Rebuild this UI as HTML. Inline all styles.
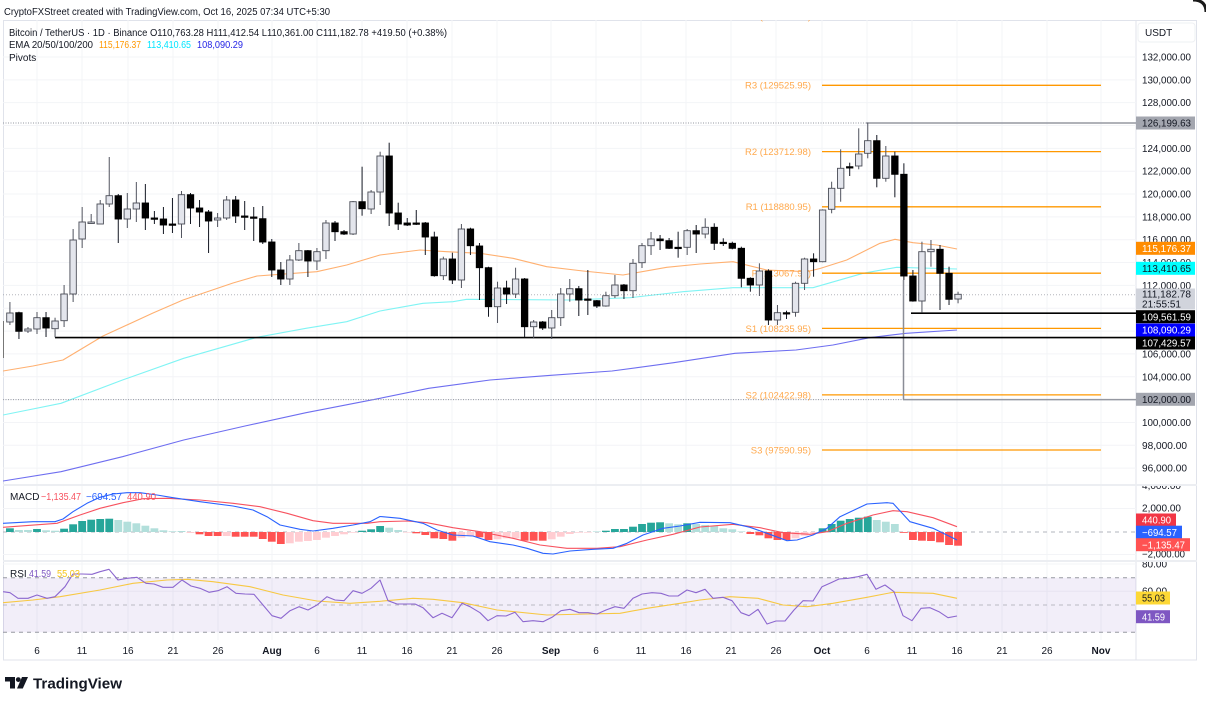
<!DOCTYPE html>
<html><head><meta charset="utf-8">
<style>
html,body{margin:0;padding:0;background:#fff;width:1206px;height:703px;overflow:hidden}
svg{display:block;font-family:"Liberation Sans",Arial,sans-serif}
</style></head>
<body>
<svg id="c" width="1206" height="703" viewBox="0 0 1206 703" xmlns="http://www.w3.org/2000/svg">
<defs>
<clipPath id="mp"><rect x="3" y="20" width="1133" height="464"/></clipPath>
<clipPath id="mc"><rect x="3" y="486" width="1133" height="74"/></clipPath>
<clipPath id="rc"><rect x="3" y="562" width="1133" height="78"/></clipPath>
<clipPath id="axm"><rect x="1136" y="486" width="61" height="74"/></clipPath>
<clipPath id="axr"><rect x="1136" y="562" width="61" height="78"/></clipPath>
</defs>
<rect width="1206" height="703" fill="#fff"/>
<path d="M1193,0 Q1206,0 1206,12" fill="none" stroke="#1a1a1a" stroke-width="3"/>

<!-- header -->
<text x="4" y="15" font-size="10" fill="#131722" textLength="326" lengthAdjust="spacingAndGlyphs">CryptoFXStreet created with TradingView.com, Oct 16, 2025 07:34 UTC+5:30</text>

<!-- frame -->
<rect x="3.5" y="20.5" width="1193" height="639.5" fill="none" stroke="#e0e3eb"/>
<line x1="1136" y1="20" x2="1136" y2="660" stroke="#e0e3eb"/>
<rect x="1138" y="23" width="57" height="19" rx="3" fill="#fff" stroke="#eef0f3"/>
<text x="1145" y="36" font-size="10" fill="#131722">USDT</text>

<g id="grid" stroke="#f3f4f7" stroke-width="1"></g>

<!-- main pane -->
<g clip-path="url(#mp)">
  <g id="emas" fill="none" stroke-width="1.1"></g>
  <!-- pivots -->
  <g stroke="#ff9800" stroke-width="1.3">
    <line x1="822" x2="1101" y1="85.3" y2="85.3"/>
    <line x1="822" x2="1101" y1="151.6" y2="151.6"/>
    <line x1="822" x2="1101" y1="206.8" y2="206.8"/>
    <line x1="822" x2="1101" y1="273.2" y2="273.2"/>
    <line x1="822" x2="1101" y1="328.4" y2="328.4"/>
    <line x1="822" x2="1101" y1="394.9" y2="394.9"/>
    <line x1="822" x2="1101" y1="450" y2="450"/>
  </g>
  <g font-size="9.5" fill="#ffa94d" text-anchor="end">
    <text x="811" y="19.5">R4 (135338.95)</text>
    <text x="811" y="88.7">R3 (129525.95)</text>
    <text x="811" y="155">R2 (123712.98)</text>
    <text x="811" y="210.2">R1 (118880.95)</text>
    <text x="811" y="276.6">P (113067.93)</text>
    <text x="811" y="331.8">S1 (108235.95)</text>
    <text x="811" y="398.3">S2 (102422.98)</text>
    <text x="811" y="453.4">S3 (97590.95)</text>
  </g>
  <!-- reference lines -->
  <line x1="3" x2="866" y1="123" y2="123" stroke="#9598a1" stroke-dasharray="1,1.5"/>
  <line x1="866" x2="1136" y1="123" y2="123" stroke="#9598a1" stroke-width="1.5"/>
  <line x1="3" x2="903" y1="399.6" y2="399.6" stroke="#9598a1" stroke-dasharray="1,1.5"/>
  <line x1="903" x2="1136" y1="399.6" y2="399.6" stroke="#9598a1" stroke-width="1.5"/>
  <line x1="903.5" x2="903.5" y1="280" y2="399.6" stroke="#8a8d96" stroke-width="1.5"/>
  <line x1="3" x2="1136" y1="294.7" y2="294.7" stroke="#9598a1" stroke-dasharray="1,2" opacity="0.7"/>
  <line x1="55" x2="1136" y1="337.6" y2="337.6" stroke="#000" stroke-width="1.6"/>
  <line x1="911" x2="1136" y1="313.2" y2="313.2" stroke="#000" stroke-width="1.6"/>
  <line x1="3.5" x2="3.5" y1="321" y2="358" stroke="#777" stroke-width="1"/>
  <g id="candles"></g>
</g>

<!-- legend -->
<text x="9" y="36" font-size="10" fill="#131722" textLength="438" lengthAdjust="spacingAndGlyphs">Bitcoin / TetherUS · 1D · Binance  O110,763.28  H111,412.54  L110,361.00  C111,182.78  +419.50 (+0.38%)</text>
<text x="9" y="48" font-size="10" fill="#131722" textLength="84" lengthAdjust="spacingAndGlyphs">EMA 20/50/100/200</text>
<text x="99" y="48" font-size="10" fill="#ff9800" textLength="42" lengthAdjust="spacingAndGlyphs">115,176.37</text>
<text x="147" y="48" font-size="10" fill="#00e5ff" textLength="44" lengthAdjust="spacingAndGlyphs">113,410.65</text>
<text x="197" y="48" font-size="10" fill="#2424e6" textLength="46" lengthAdjust="spacingAndGlyphs">108,090.29</text>
<text x="9" y="61" font-size="10" fill="#131722">Pivots</text>

<!-- pane separators -->
<rect x="3" y="484" width="1194" height="2" fill="#eceef2"/>
<rect x="3" y="560" width="1194" height="2" fill="#eceef2"/>

<!-- MACD pane -->
<g clip-path="url(#mc)">
  <line x1="3" x2="1136" y1="532" y2="532" stroke="#b2b5be" stroke-dasharray="4,4"/>
  <g id="hist"></g>
  <g id="macdl" fill="none" stroke-width="1.1"></g>
</g>
<text x="10" y="500" font-size="10" fill="#131722">MACD</text>
<text x="41" y="500" font-size="10" fill="#f7525f" textLength="40" lengthAdjust="spacingAndGlyphs">−1,135.47</text>
<text x="86" y="500" font-size="10" fill="#2962ff" textLength="36" lengthAdjust="spacingAndGlyphs">−694.57</text>
<text x="127" y="500" font-size="10" fill="#f7525f" textLength="29" lengthAdjust="spacingAndGlyphs">440.90</text>

<!-- RSI pane -->
<g clip-path="url(#rc)">
  <rect x="3" y="577.7" width="1133" height="54.6" fill="#7e57c2" fill-opacity="0.1"/>
  <g stroke="#9598a1" stroke-dasharray="4,4" stroke-width="1">
    <line x1="3" x2="1136" y1="577.7" y2="577.7"/>
    <line x1="3" x2="1136" y1="605" y2="605" opacity="0.6"/>
    <line x1="3" x2="1136" y1="632.3" y2="632.3"/>
  </g>
  <g id="rsil" fill="none" stroke-width="1.1"></g>
</g>
<text x="10" y="577" font-size="10" fill="#131722">RSI</text>
<text x="29" y="577" font-size="10" fill="#7e57c2" textLength="22" lengthAdjust="spacingAndGlyphs">41.59</text>
<text x="57" y="577" font-size="10" fill="#f5c518" textLength="23" lengthAdjust="spacingAndGlyphs">55.03</text>

<!-- price axis -->
<g font-size="10" fill="#131722">
  <text x="1142" y="60.5" textLength="49" lengthAdjust="spacingAndGlyphs">132,000.00</text>
  <text x="1142" y="83.3" textLength="49" lengthAdjust="spacingAndGlyphs">130,000.00</text>
  <text x="1142" y="106.2" textLength="49" lengthAdjust="spacingAndGlyphs">128,000.00</text>
  <text x="1142" y="151.9" textLength="49" lengthAdjust="spacingAndGlyphs">124,000.00</text>
  <text x="1142" y="174.7" textLength="49" lengthAdjust="spacingAndGlyphs">122,000.00</text>
  <text x="1142" y="197.5" textLength="49" lengthAdjust="spacingAndGlyphs">120,000.00</text>
  <text x="1142" y="220.4" textLength="49" lengthAdjust="spacingAndGlyphs">118,000.00</text>
  <text x="1142" y="243.2" textLength="49" lengthAdjust="spacingAndGlyphs">116,000.00</text>
  <text x="1142" y="266.1" textLength="49" lengthAdjust="spacingAndGlyphs">114,000.00</text>
  <text x="1142" y="288.9" textLength="49" lengthAdjust="spacingAndGlyphs">112,000.00</text>
  <text x="1142" y="357.4" textLength="49" lengthAdjust="spacingAndGlyphs">106,000.00</text>
  <text x="1142" y="380.3" textLength="49" lengthAdjust="spacingAndGlyphs">104,000.00</text>
  <text x="1142" y="425.9" textLength="49" lengthAdjust="spacingAndGlyphs">100,000.00</text>
  <text x="1142" y="448.8" textLength="45" lengthAdjust="spacingAndGlyphs">98,000.00</text>
  <text x="1142" y="471.6" textLength="45" lengthAdjust="spacingAndGlyphs">96,000.00</text>
</g>
<!-- price tags -->
<g font-size="10">
  <rect x="1136" y="116.5" width="59" height="13" fill="#a3a6af"/>
  <text x="1142" y="126.6" fill="#131722" textLength="49" lengthAdjust="spacingAndGlyphs">126,199.63</text>
  <rect x="1136" y="241.8" width="59" height="13" fill="#ff8c00"/>
  <text x="1142" y="251.9" fill="#fff" textLength="49" lengthAdjust="spacingAndGlyphs">115,176.37</text>
  <rect x="1136" y="261.8" width="59" height="13" fill="#00ffff"/>
  <text x="1142" y="271.9" fill="#131722" textLength="49" lengthAdjust="spacingAndGlyphs">113,410.65</text>
  <rect x="1136" y="288.5" width="59" height="21" fill="#d1d4dc"/>
  <text x="1142" y="297.6" fill="#131722" textLength="49" lengthAdjust="spacingAndGlyphs">111,182.78</text>
  <text x="1142" y="307.6" fill="#131722" textLength="39" lengthAdjust="spacingAndGlyphs">21:55:51</text>
  <rect x="1136" y="310.2" width="59" height="13" fill="#000"/>
  <text x="1142" y="320.3" fill="#fff" textLength="49" lengthAdjust="spacingAndGlyphs">109,561.59</text>
  <rect x="1136" y="323.5" width="59" height="13" fill="#0000ff"/>
  <text x="1142" y="333.6" fill="#fff" textLength="49" lengthAdjust="spacingAndGlyphs">108,090.29</text>
  <rect x="1136" y="336.5" width="59" height="13" fill="#000"/>
  <text x="1142" y="346.6" fill="#fff" textLength="49" lengthAdjust="spacingAndGlyphs">107,429.57</text>
  <rect x="1136" y="392.8" width="59" height="13" fill="#a3a6af"/>
  <text x="1142" y="402.9" fill="#131722" textLength="49" lengthAdjust="spacingAndGlyphs">102,000.00</text>
</g>

<!-- MACD axis -->
<g font-size="10" fill="#131722" clip-path="url(#axm)">
  <text x="1142" y="489" textLength="39" lengthAdjust="spacingAndGlyphs">4,000.00</text>
  <text x="1142" y="511.5" textLength="39" lengthAdjust="spacingAndGlyphs">2,000.00</text>
  <text x="1142" y="557.5" textLength="43" lengthAdjust="spacingAndGlyphs">−2,000.00</text>
</g>
<g font-size="10">
  <rect x="1136" y="513.5" width="40" height="13" fill="#f23645"/>
  <text x="1142" y="523.6" fill="#fff" textLength="29" lengthAdjust="spacingAndGlyphs">440.90</text>
  <rect x="1136" y="525.7" width="46" height="13" fill="#2962ff"/>
  <text x="1142" y="535.8" fill="#fff" textLength="35" lengthAdjust="spacingAndGlyphs">−694.57</text>
  <rect x="1136" y="538.2" width="54" height="13" fill="#ff5252"/>
  <text x="1142" y="548.3" fill="#fff" textLength="43" lengthAdjust="spacingAndGlyphs">−1,135.47</text>
</g>
<!-- RSI axis -->
<g font-size="10" fill="#131722" clip-path="url(#axr)">
  <text x="1142" y="567.5" textLength="25" lengthAdjust="spacingAndGlyphs">80.00</text>
  <text x="1142" y="594.5" textLength="25" lengthAdjust="spacingAndGlyphs">60.00</text>
</g>
<g font-size="10">
  <rect x="1136" y="591.5" width="34" height="13" fill="#fdd835"/>
  <text x="1142" y="601.6" fill="#131722" textLength="23" lengthAdjust="spacingAndGlyphs">55.03</text>
  <rect x="1136" y="610.2" width="34" height="13" fill="#7e57c2"/>
  <text x="1142" y="620.3" fill="#fff" textLength="23" lengthAdjust="spacingAndGlyphs">41.59</text>
</g>

<!-- time axis -->
<g font-size="10" fill="#131722" text-anchor="middle">
  <text x="37" y="654">6</text>
  <text x="82" y="654">11</text>
  <text x="128" y="654">16</text>
  <text x="173" y="654">21</text>
  <text x="218" y="654">26</text>
  <text x="272" y="654" font-weight="bold">Aug</text>
  <text x="317" y="654">6</text>
  <text x="362" y="654">11</text>
  <text x="407" y="654">16</text>
  <text x="452" y="654">21</text>
  <text x="497" y="654">26</text>
  <text x="551" y="654" font-weight="bold">Sep</text>
  <text x="596" y="654">6</text>
  <text x="641" y="654">11</text>
  <text x="686" y="654">16</text>
  <text x="731" y="654">21</text>
  <text x="776" y="654">26</text>
  <text x="822" y="654" font-weight="bold">Oct</text>
  <text x="867" y="654">6</text>
  <text x="912" y="654">11</text>
  <text x="957" y="654">16</text>
  <text x="1002" y="654">21</text>
  <text x="1047" y="654">26</text>
  <text x="1101" y="654" font-weight="bold">Nov</text>
</g>

<!-- TradingView logo -->
<path d="M5,677 h10 v11.5 h-5 v-7 h-5 z" fill="#131722"/>
<circle cx="18.3" cy="679.6" r="2.4" fill="#131722"/>
<path d="M22,677 h6 l-5.2,11.5 h-5.8 z" fill="#131722"/>
<text x="33" y="688.5" font-size="15" font-weight="bold" fill="#131722" textLength="89" lengthAdjust="spacingAndGlyphs">TradingView</text>

<script>
(function(){
var NS="http://www.w3.org/2000/svg";
function X(i){return 37+i*9.03;}
function add(g,tag,attrs){var e=document.createElementNS(NS,tag);for(var k in attrs)e.setAttribute(k,attrs[k]);g.appendChild(e);return e;}
// grid
var grid=document.getElementById('grid');
var dates=[-1,4,9,14,19,25.5,30,35,40,45,50,56.5,61,66,71,76,81,87,92,97,102,107,112,117.5];
for(var k=132;k>=96;k-=2){var y=57+(132-k)*11.42;add(grid,'line',{x1:3,x2:1136,y1:y,y2:y});}
[485.5,508.5,554.5].forEach(function(y){add(grid,'line',{x1:3,x2:1136,y1:y,y2:y});});
[564,591.3].forEach(function(y){add(grid,'line',{x1:3,x2:1136,y1:y,y2:y});});
[37,82,128,173,218,272,317,362,407,452,497,551,596,641,686,731,776,822,867,912,957,1002,1047,1101].forEach(function(x){add(grid,'line',{x1:x,x2:x,y1:20,y2:640});});

// EMAs
var em=document.getElementById('emas');
function pl(g,pts,col,w){add(g,'polyline',{points:pts.map(function(p){return p[0]+','+p[1];}).join(' '),stroke:col,'stroke-width':w||1.1,fill:'none','stroke-linejoin':'round'});}
pl(em,[[3,371],[33,366],[63,360],[103,336],[153,313],[183,300],[233,283],[257,276],[280,274.3],[316.7,271.7],[346.7,265],[380,255],[420,250],[446.7,251.7],[480,253.3],[513,258.3],[546.7,266.7],[583,271],[623,275],[666.7,267.3],[700,264],[733,261.7],[766.7,270],[806.7,271.7],[820,268.5],[846.7,260],[880,243.3],[895,239.3],[913,242.7],[936.7,245],[957,249]],'#ffb070');
pl(em,[[3,415],[61,403.3],[122.5,380],[183.7,358.3],[257,337.3],[306,328.3],[346.7,321.7],[380,311],[423,303.3],[453,301.7],[466.7,299.3],[570,300],[630,297.7],[683,291.7],[733,287.7],[766.7,287.7],[813,287.7],[863,273.3],[896.7,267.3],[957,269]],'#80f4f4');
pl(em,[[3,481],[61,471.7],[122.5,456.7],[183.7,440],[245,426],[306,412.7],[380,398.3],[428.7,388.3],[490,380],[551,375.3],[612,371],[673.6,362.7],[735,353.3],[796,350],[833,345],[869.6,337.7],[906,333.3],[957,330]],'#6e6ef0');

// candles [i,up,bodyTop,bodyBot,wickTop,wickBot]
var C=[[-3,1,313,322,302,325],[-2,0,312.7,331.3,311.7,339],[-1,1,329,331,327,333],[0,1,317.7,329,312,334],[1,0,317.7,328,312,337],[2,1,321,328.7,317.7,337.3],[3,1,294,320.7,285,327],[4,1,240,294,229,302],[5,1,222,239,207,248],[6,1,222,223.5,214,224],[7,1,204,224,200,224],[8,1,195.7,204,157,207],[9,0,195.7,219,194,243],[10,1,209,219,193,228],[11,1,203,209,182,222],[12,0,203,218,184,230],[13,0,218,219,211,224],[14,0,219,225,207,234],[15,0,224,225,198,233],[16,1,194.7,224,191,238],[17,0,194.7,208,193,224],[18,0,208,212,200,227],[19,0,212,221,210,253],[20,1,218,220,213,227],[21,1,200,218,196,220],[22,0,200,216,196,223],[23,0,216,217,201,230],[24,0,217,218,207,241],[25,0,218.7,242,206,244],[26,0,242,270,239,277],[27,0,270,279,262,285],[28,1,260,279,255,285],[29,1,250.7,260,243,261],[30,0,250.7,261,250,277],[31,1,251.7,261,248,270],[32,1,223,250.7,220,259],[33,0,223,231.7,221,241],[34,0,231.7,234,230,235],[35,1,201.7,234,201,235],[36,0,201.7,208.7,166.7,215.7],[37,1,192,209,190,214],[38,1,156,192,151.7,205],[39,0,156,213,142.7,226],[40,0,213,224,202.7,230],[41,0,223,225,218,226],[42,0,223,224,210,225],[43,0,223,237,222,255],[44,0,237,275.7,231.7,276.7],[45,1,259,275.7,256.7,280],[46,0,259,280,252.7,284],[47,1,229,280,224,288],[48,0,229,245.7,227.7,255],[49,0,246,267.7,243,300],[50,0,267.7,306.7,266.7,316.7],[51,1,288,306.7,281.7,323],[52,0,288,294,280.7,304],[53,1,279,294,267.7,298],[54,0,279,326.7,278,337],[55,1,322,326.7,320,338],[56,0,322,328,321,330],[57,1,317.7,328,310,339],[58,1,294,317.7,288,326],[59,1,288.7,294,279,301.7],[60,0,288.7,300,286,316],[61,0,299,300,270,315],[62,0,300.7,306,300,308],[63,1,295.7,306,291.7,306.7],[64,1,285,295.7,275,298],[65,0,285,290.7,284,299],[66,1,263.3,290.7,259,298],[67,1,245.7,262.7,243,268],[68,1,239,245.7,232,255],[69,0,239,240.7,235,250],[70,0,240.7,248.3,238,249],[71,0,247.3,248.3,231.7,257.7],[72,1,230.7,247.3,229,255],[73,0,230.7,234,225,253],[74,1,227.3,234,218.3,238.3],[75,0,227.3,243.3,223.3,250],[76,0,242.3,243.3,238.3,246],[77,0,243.3,248.3,241.7,249.3],[78,0,248.3,278.3,246.7,287.3],[79,0,278.3,285,277.3,291.7],[80,1,271,285,263.3,296],[81,0,271,320,269.3,325],[82,1,312.7,320,305,325],[83,0,312.7,313.3,310.7,319],[84,1,283.3,312.3,281.7,316.7],[85,1,259,283.3,257.7,290],[86,0,259,261.7,253.3,276.7],[87,1,210,261.7,209.3,262.3],[88,1,188.3,209.3,181.7,213.3],[89,1,168.3,188.3,149.3,201.7],[90,0,166.7,168,162.7,176],[91,1,154,166,128.3,169.3],[92,1,140.7,153.3,122.7,158.3],[93,0,140.7,178.3,135,187.3],[94,1,156,178.3,146,181.7],[95,0,156,174.3,151.7,197.3],[96,0,174.3,276,163.3,280],[97,0,276,301,270,301.7],[98,1,251.7,301,241.7,312.7],[99,1,249.3,251.7,240,266.7],[100,0,249.3,273.3,245,310],[101,0,273.3,299.3,266.7,305],[102,1,294.3,299,291.7,303.3]];
var cg=document.getElementById('candles');
C.forEach(function(c){var x=X(c[0]);var up=c[1];
 add(cg,'line',{x1:x,x2:x,y1:c[4],y2:c[5],stroke:up?'#50535e':'#131722','stroke-width':1});
 var h=Math.max(c[3]-c[2],1.3);
 add(cg,'rect',{x:x-3.2,y:c[2],width:6.4,height:h,fill:up?'#e3e5ec':'#000',stroke:up?'#4a4d57':'#000','stroke-width':0.9});
});

// MACD histogram [i,y,color]
var H=[[-3,528.3,'D'],[-2,530,'L'],[-1,530,'L'],[0,529,'D'],[1,530.3,'L'],[2,530.7,'L'],[3,528.7,'D'],[4,524.3,'D'],[5,521,'D'],[6,519.7,'D'],[7,519,'D'],[8,518.7,'D'],[9,520,'L'],[10,521.7,'L'],[11,523.3,'L'],[12,525.7,'L'],[13,528.3,'L'],[14,530.3,'L'],[15,531.3,'L'],[16,531,'L'],[17,533,'P'],[18,534.3,'R'],[19,536,'R'],[20,536,'R'],[21,536,'P'],[22,536.7,'R'],[23,536.7,'R'],[24,536.7,'R'],[25,539,'R'],[26,541.7,'R'],[27,544,'R'],[28,543.3,'P'],[29,541.7,'P'],[30,541,'P'],[31,540,'P'],[32,537.7,'P'],[33,536,'P'],[34,534.3,'P'],[35,532.7,'P'],[36,530.7,'D'],[37,529.3,'D'],[38,526,'D'],[39,527.7,'L'],[40,530,'L'],[41,532.6,'P'],[42,533.3,'R'],[43,535,'R'],[44,538.3,'R'],[45,539,'R'],[46,540.7,'R'],[47,537.7,'P'],[48,536,'P'],[49,537.3,'R'],[50,540,'R'],[51,539.3,'P'],[52,538.3,'P'],[53,538.3,'P'],[54,540.7,'R'],[55,540.7,'R'],[56,540.7,'R'],[57,539.3,'P'],[58,536.7,'P'],[59,534,'P'],[60,532.7,'P'],[61,532.4,'P'],[62,531.4,'L'],[63,530.7,'D'],[64,529,'D'],[65,529,'D'],[66,526.7,'D'],[67,524,'D'],[68,522.7,'D'],[69,522.3,'D'],[70,523.3,'L'],[71,524.3,'L'],[72,523.3,'D'],[73,524,'L'],[74,525,'L'],[75,526,'L'],[76,528.3,'L'],[77,529.3,'L'],[78,531.4,'L'],[79,534,'R'],[80,535.3,'R'],[81,538.3,'R'],[82,540,'R'],[83,540,'R'],[84,538.3,'P'],[85,535.7,'P'],[86,533,'P'],[87,528.3,'D'],[88,524,'D'],[89,520.7,'D'],[90,519,'D'],[91,517.7,'D'],[92,516.7,'D'],[93,520,'L'],[94,521.7,'L'],[95,524,'L'],[96,532.8,'R'],[97,540,'R'],[98,540.7,'R'],[99,541,'R'],[100,542.3,'R'],[101,545,'R'],[102,545.7,'R']];
var col={D:'#26a69a',L:'#b2dfdb',R:'#ff5252',P:'#ffcdd2'};
var hg=document.getElementById('hist');
H.forEach(function(h){var x=X(h[0]);var y0=532;var t=Math.min(h[1],y0),b=Math.max(h[1],y0);
 add(hg,'rect',{x:x-3.9,y:t,width:7.8,height:Math.max(b-t,0.6),fill:col[h[2]]});});
var mg=document.getElementById('macdl');
pl(mg,[[3,527.3],[57,523.3],[80,515],[100,508.3],[123,502.7],[143,498.7],[167,498.3],[200,500],[233,503.3],[260,506.7],[287,513.3],[313,520.7],[333,523.3],[367,523.3],[380,521.7],[407,521],[427,522.7],[453,527.7],[480,531.7],[513,538.3],[540,545],[567,548.3],[597,548.3],[620,546.7],[647,540],[673,534.3],[700,527],[733,524.3],[760,527.7],[783,532.7],[810,534.3],[827,531.7],[847,523.3],[873,515],[893,510.7],[907,511.7],[933,517.7],[957,526.7]],'#f7525f');
pl(mg,[[3,523.3],[33,521.7],[55,521.7],[63,519],[73,511.7],[87,503.3],[100,497.3],[113,494],[127,492.7],[140,492.7],[157,495],[173,497.7],[200,501.7],[233,506],[253,510],[267,516.7],[280,525],[300,529.3],[313,531],[333,528.3],[353,525],[370,521.7],[380,516.5],[400,518.3],[423,523.3],[437,530],[453,535],[473,536],[490,541.7],[513,545],[527,548.3],[543,553.3],[553,554],[570,551],[593,549.3],[613,548.3],[627,543.3],[643,535],[663,528.3],[680,526],[700,522.3],[730,522.7],[750,527.3],[767,533.3],[787,540.7],[797,540],[813,535],[827,528.3],[840,516.7],[867,504],[887,502.7],[893,503.3],[910,521.7],[933,528.3],[957,540]],'#2962ff');

// RSI
var rg=document.getElementById('rsil');
pl(rg,[[3,602.7],[33,600],[60,596.7],[100,590],[133,583.3],[167,580],[187,579.3],[213,581.7],[250,586.7],[283,595],[317,601],[350,603.3],[380,601.3],[413,598.3],[433,599.3],[463,602.7],[497,610],[547,615],[587,614],[620,613.3],[647,608.3],[680,603.3],[700,600],[730,596.7],[758,598.3],[783,605],[807,606.7],[833,603.3],[867,597.3],[893,592.3],[933,593.3],[957,598.3]],'#f7c843');
pl(rg,[[3,591.7],[10,592.7],[18,598.3],[28,598.3],[37,595],[47,598.3],[55,596.7],[65,586.7],[73,574],[82,574],[92,574.3],[100,571.7],[109,569.3],[118,580],[127,578.3],[137,577.3],[146,583.3],[154,584],[163,587.3],[173,587.3],[182,580],[191,586],[200,588.3],[209,592.3],[218,590.7],[227,586.7],[236,593.3],[245,594],[254,594.3],[263,605],[272,615.7],[281,618.3],[290,610.7],[299,606.7],[308,610],[317,605],[327,596.7],[335,600],[344,600.7],[353,590.7],[362,593.3],[371,588.3],[380,580],[388,600.7],[397,604],[407,604],[415,604],[423,607.7],[433,617.7],[442,613.3],[452,617.7],[462,603.3],[470,606.7],[480,612.7],[488,620.7],[497,615.7],[506,616],[515,612.3],[523,621.7],[533,620.7],[543,621.7],[552,617.3],[561,610.7],[570,609.3],[579,612.7],[588,612.7],[597,614],[606,610],[615,606.7],[624,608.3],[633,598.3],[642,594],[652,592.7],[661,593.3],[669,596],[678,596],[687,590],[696,592.7],[705,589.3],[713,598.3],[723,597.3],[732,600.7],[741,612.7],[749,615.7],[758,609.3],[767,624],[776,621],[785,621],[794,610],[803,600.7],[813,601],[822,586.7],[831,582.7],[839,579],[848,578.3],[858,576.7],[867,574.3],[876,589.3],[885,585],[894,591.7],[903,615.7],[912,620.7],[921,608.3],[930,607.7],[939,611.7],[948,617.7],[957,616]],'#8c67cf');
})();
</script>
</svg>
</body></html>
